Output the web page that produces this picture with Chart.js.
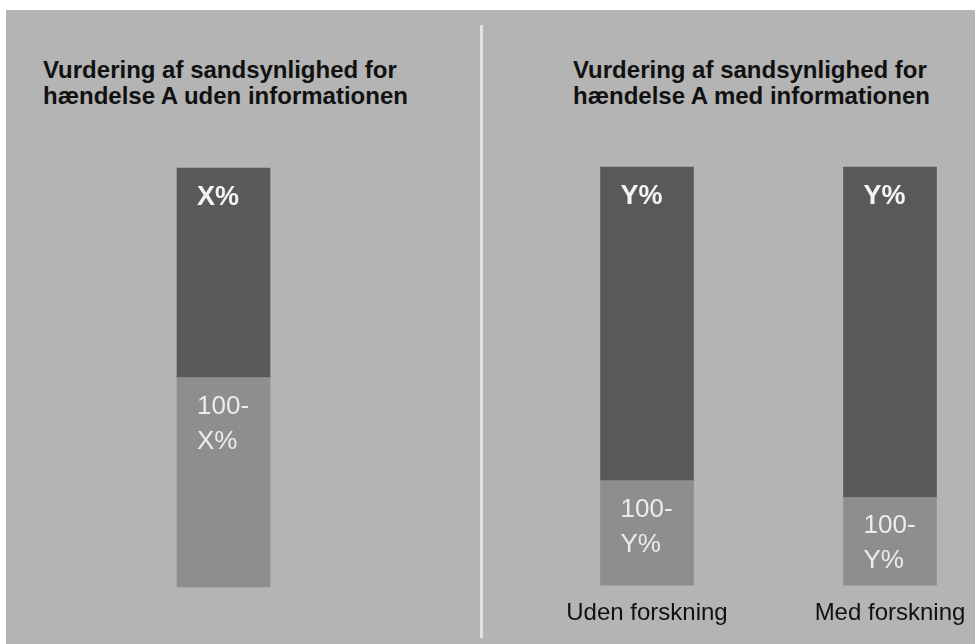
<!DOCTYPE html>
<html>
<head>
<meta charset="utf-8">
<script src="https://cdn.jsdelivr.net/npm/chart.js@4.4.0/dist/chart.umd.min.js"></script>
<style>
  html, body { margin: 0; padding: 0; background: #fff; }
  body { width: 975px; height: 644px; position: relative; overflow: hidden; font-family: "Liberation Sans", Arial, Helvetica, sans-serif; }
  #panel { position: absolute; left: 6px; top: 10px; right: 0; bottom: 0; background: #b4b4b4; }
  #divider { position: absolute; left: 480px; top: 25px; width: 3px; height: 613px; background: #e3e3e3; }
  .heading { position: absolute; top: 57px; font-weight: bold; font-size: 24px; line-height: 26px; color: #111; white-space: nowrap; }
  canvas { position: absolute; top: 0; }
</style>
</head>
<body>
<div id="panel"></div>
<div id="divider"></div>
<div class="heading" style="left:43px">Vurdering af sandsynlighed for<br>hændelse A uden informationen</div>
<div class="heading" style="left:573px">Vurdering af sandsynlighed for<br>hændelse A med informationen</div>
<canvas id="venstre" width="482" height="644" style="left:0"></canvas>
<canvas id="hoejre" width="493" height="644" style="left:482px"></canvas>
<script>
// venstre panel: uden informationen
const leftCategories = [''];
const leftLower = [50];
const leftUpper = [50];
const leftLowerText = [['100-', 'X%']];
const leftUpperText = [['X%']];

// højre panel: med informationen
const rightCategories = ['Uden forskning', 'Med forskning'];
const rightLower = [25, 21];
const rightUpper = [75, 79];
const rightLowerText = [['100-', 'Y%'], ['100-', 'Y%']];
const rightUpperText = [['Y%'], ['Y%']];

const FONT = '"Liberation Sans", Arial, Helvetica, sans-serif';
const DARK = '#595959';
const LIGHT = '#8e8e8e';

// skriver teksten oppe i hvert segment
const segmentText = {
  id: 'segmentText',
  afterDatasetsDraw(chart) {
    const ctx = chart.ctx;
    ctx.save();
    chart.data.datasets.forEach((ds, i) => {
      const meta = chart.getDatasetMeta(i);
      meta.data.forEach((bar, j) => {
        const lines = ds.texts[j] || [];
        const top = Math.min(bar.y, bar.base);
        const x = bar.x - bar.width / 2 + 20;
        ctx.fillStyle = ds.textColor;
        ctx.font = ds.textFont;
        ctx.textAlign = 'left';
        ctx.textBaseline = 'alphabetic';
        lines.forEach((line, k) => {
          ctx.fillText(line, x, top + ds.textOffset + k * 35);
        });
      });
    });
    ctx.restore();
  }
};

function makeDatasets(lower, upper, lowerText, upperText) {
  return [
    {
      data: lower,
      backgroundColor: LIGHT,
      barThickness: 93,
      clip: false,
      texts: lowerText,
      textColor: '#ececec',
      textFont: '26px ' + FONT,
      textOffset: 36
    },
    {
      data: upper,
      backgroundColor: DARK,
      barThickness: 93,
      clip: false,
      texts: upperText,
      textColor: '#f4f4f4',
      textFont: 'bold 27px ' + FONT,
      textOffset: 37
    }
  ];
}

new Chart(document.getElementById('venstre'), {
  type: 'bar',
  data: { labels: leftCategories, datasets: makeDatasets(leftLower, leftUpper, leftLowerText, leftUpperText) },
  options: {
    responsive: false,
    animation: false,
    layout: { padding: { left: 43, right: 78, top: 168, bottom: 57 } },
    plugins: { legend: { display: false }, tooltip: { enabled: false } },
    scales: {
      x: { stacked: true, display: false, offset: true },
      y: { stacked: true, display: false, min: 0, max: 100 }
    }
  },
  plugins: [segmentText]
});

new Chart(document.getElementById('hoejre'), {
  type: 'bar',
  data: { labels: rightCategories, datasets: makeDatasets(rightLower, rightUpper, rightLowerText, rightUpperText) },
  options: {
    responsive: false,
    animation: false,
    layout: { padding: { left: 165, right: 85, top: 167, bottom: 10 } },
    plugins: { legend: { display: false }, tooltip: { enabled: false } },
    scales: {
      x: {
        stacked: true,
        offset: false,
        grid: { display: false },
        border: { display: false },
        ticks: {
          color: '#111',
          padding: 6,
          maxRotation: 0,
          minRotation: 0,
          autoSkip: false,
          font: { family: FONT, size: 24 }
        }
      },
      y: { stacked: true, display: false, min: 0, max: 100 }
    }
  },
  plugins: [segmentText]
});
</script>
</body>
</html>
